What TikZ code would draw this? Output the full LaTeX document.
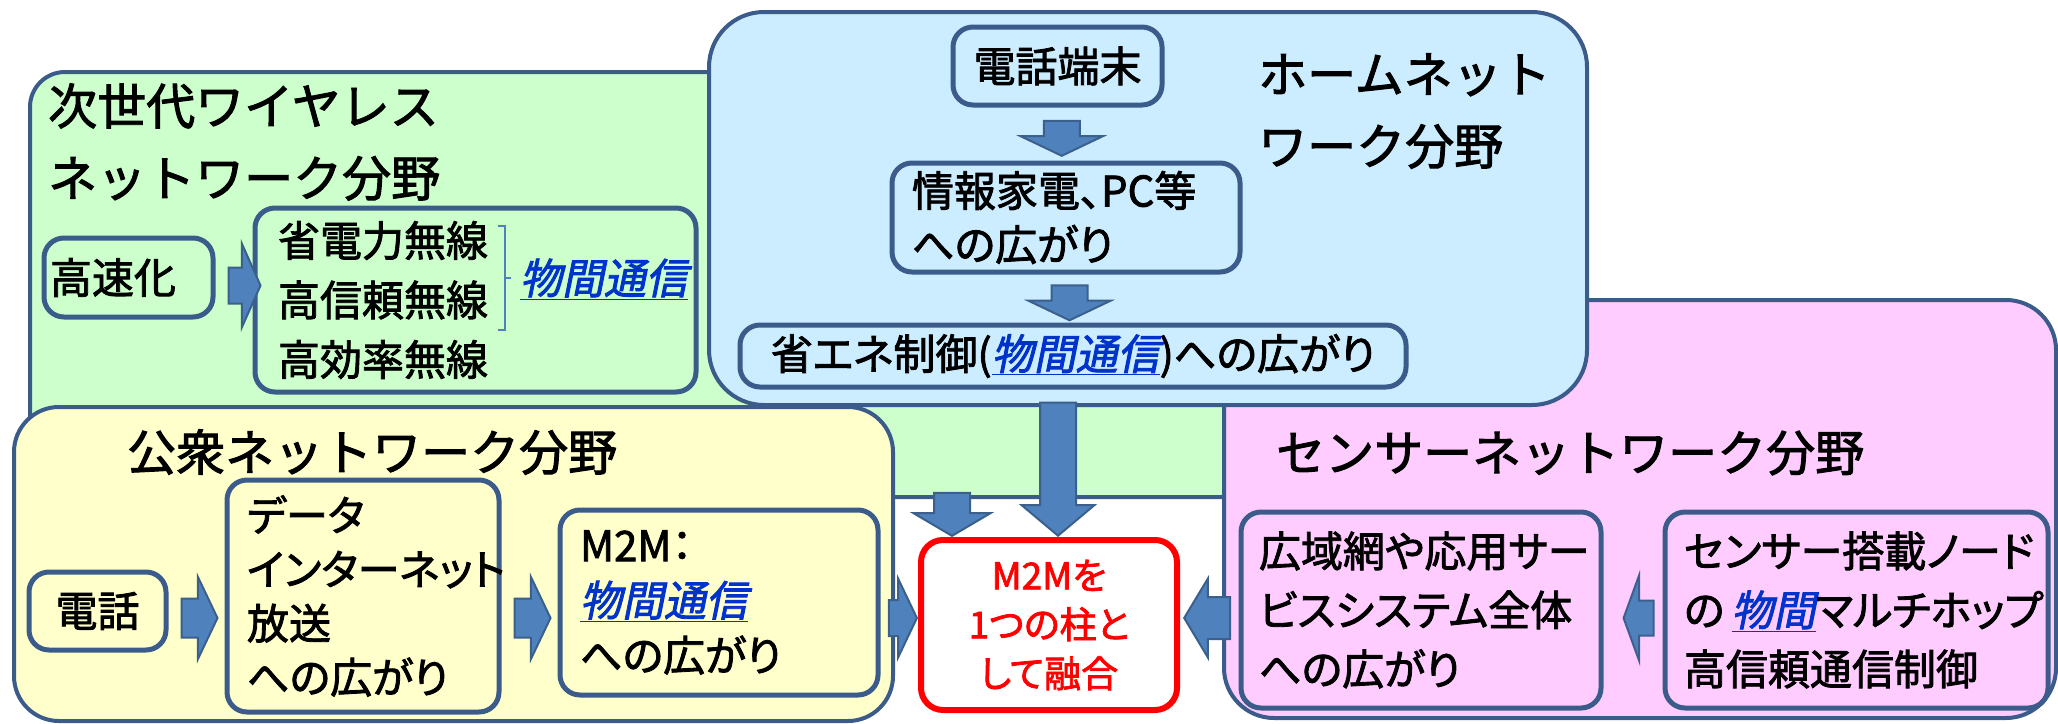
\documentclass[tikz,border=0pt]{standalone}
\usepackage{fontspec}
\setmainfont[RawFeature=+palt,FakeBold=2]{Noto Sans CJK JP}
\newfontfamily\titlefont[FakeBold=2]{Noto Sans CJK JP}
\newfontfamily\linkfont[FakeSlant=0.2,FakeBold=2,RawFeature=+palt]{Noto Sans CJK JP}
\usepackage{tikz}
\usetikzlibrary{positioning,calc,shapes.arrows}
\definecolor{edge}{RGB}{59,92,138}
\definecolor{arrowfill}{RGB}{79,129,189}
\definecolor{arrowedge}{RGB}{60,96,140}
\definecolor{wlgreen}{RGB}{204,255,204}
\definecolor{homeblue}{RGB}{204,236,255}
\definecolor{pubyellow}{RGB}{255,255,204}
\definecolor{senspink}{RGB}{255,204,255}
\definecolor{linkblue}{RGB}{0,51,204}
\newcommand{\linktext}[1]{\textcolor{linkblue}{\linkfont\underline{#1}}}
\tikzset{panel/.style={draw=edge,line width=4pt,inner sep=0pt}}
\tikzset{title/.style={font=\titlefont\fontsize{49}{72}\selectfont,align=left,inner sep=0pt}}
\tikzset{box/.style={draw=edge,line width=5pt,rounded corners=20pt,align=left,inner ysep=0pt,font=\fontsize{42}{59}\selectfont}}
\tikzset{barrow/.style={single arrow,draw=arrowedge,fill=arrowfill,line width=2pt,inner xsep=0pt,inner ysep=17pt,single arrow head extend=23pt,single arrow tip angle=129}}

\begin{document}
\begin{tikzpicture}[x=1pt,y=-1pt]
    \useasboundingbox (0,0) rectangle (2058,723);
    % panels
    \node[panel,fill=wlgreen,rounded corners=35pt,minimum width=1270pt,minimum height=425pt] (wireless) at (665,284.5) {};
    \node[panel,fill=senspink,rounded corners=50pt,minimum width=832pt,minimum height=418pt] (sensor) at (1640,509) {};
    \node[panel,fill=homeblue,rounded corners=55pt,minimum width=878pt,minimum height=393pt] (home) at (1148,208.5) {};
    \node[panel,fill=pubyellow,rounded corners=45pt,minimum width=879pt,minimum height=314pt] (public) at (453.5,564) {};
    \node[title,anchor=west] (wltitle) at (48,142) {次世代ワイヤレス\\ネットワーク分野};
    \node[title,anchor=west] (hometitle) at (1258,111) {ホームネット\\ワーク分野};
    \node[title,anchor=west] (pubtitle) at (127,452) {公衆ネットワーク分野};
    \node[title,anchor=west] (senstitle) at (1276,453) {センサーネットワーク分野};

    % wireless
    \node[box,fill=wlgreen,minimum height=79pt,text width=157pt,inner xsep=6pt] (speed) at (128.5,277.5) {高速化};
    \node[box,fill=wlgreen,minimum height=184pt,text width=395pt,inner xsep=23pt,font=\fontsize{42}{59.5}\selectfont] (wl) at (475.5,300) {省電力無線\\高信頼無線\\高効率無線};
    \node[inner sep=0pt,font=\fontsize{42}{59}\selectfont] (wllink) at (604,279) {\linktext{物間通信}};
    \draw[arrowfill,line width=1.5pt] (498,226) -- (505,226) -- (505,330) -- (498,330) (505,278) -- (511,278);
    \node[barrow,minimum height=32pt,single arrow head extend=24pt,single arrow tip angle=132,right=12pt of speed,yshift=-8pt] (speedarrow) {};

    % home
    \node[box,fill=homeblue,minimum width=209pt,minimum height=78pt,align=center] (tel) at (1057.5,66) {電話端末};
    \node[box,fill=homeblue,minimum height=109pt,text width=308pt,inner xsep=20pt,font=\fontsize{42}{54}\selectfont] (info) at (1066,217.5) {情報家電、PC等\\への広がり};
    \node[box,fill=homeblue,minimum width=666pt,minimum height=62pt,align=center] (sav) at (1073,356) {省エネ制御(\linktext{物間通信})への広がり};
    \node[barrow,rotate=-90,minimum height=35pt] (telarrow) at ($(tel.south)!0.5!(info.north)$) {};
    \node[barrow,rotate=-90,minimum height=35pt] (infoarrow) at ($(info.south)!0.5!(sav.north)$) {};

    % public
    \node[box,fill=pubyellow,minimum width=137pt,minimum height=78pt,align=center] (phone) at (97.5,611) {電話};
    \node[box,fill=pubyellow,minimum height=232pt,text width=232pt,inner xsep=20pt,font=\fontsize{42}{54}\selectfont] (data) at (363,596) {データ\\インターネット\\放送\\への広がり};
    \node[box,fill=pubyellow,minimum height=185pt,text width=278pt,inner xsep=20pt,font=\fontsize{42}{55}\selectfont] (m2mext) at (719,602.5) {M2M：\\\linktext{物間通信}\\への広がり};
    \node[barrow,minimum height=36pt,inner ysep=18.5pt,single arrow head extend=21.5pt,right=12pt of phone,yshift=-7pt] (phonearrow) {};
    \node[barrow,minimum height=36pt,inner ysep=18.5pt,single arrow head extend=21.5pt,anchor=west,xshift=12pt] (dataarrow) at (data.east |- phonearrow) {};

    % sensor
    \node[box,fill=senspink,minimum height=196pt,text width=324pt,inner xsep=18pt] (wide) at (1421,610) {広域網や応用サー\\ビスシステム全体\\への広がり};
    \node[box,fill=senspink,minimum height=196pt,text width=345pt,inner xsep=19pt] (sensnode) at (1856.5,610) {センサー搭載ノード\\の\,\linktext{物間}マルチホップ\\高信頼通信制御};
    \node[barrow,rotate=180,minimum height=30pt,inner ysep=16.5pt,single arrow head extend=25pt,single arrow tip angle=140,anchor=east] (nodearrow) at ($(wide.east |- phonearrow)+(19,0)$) {};

    % M2M
    \node[draw=red,line width=6pt,fill=white,rounded corners=22pt,minimum width=256pt,minimum height=170pt,align=center,text=red,font=\fontsize{37}{49}\selectfont] (m2m) at (1049,625) {M2Mを\\1つの柱と\\して融合};
    \node[barrow,minimum height=28pt,single arrow head extend=21.5pt,anchor=east] (pubarrow) at (m2m.west |- phonearrow) {};
    \node[barrow,rotate=180,minimum height=46pt,inner ysep=20pt,single arrow head extend=18.5pt,single arrow tip angle=118,anchor=east] (sensarrow) at ($(m2m.east |- phonearrow)+(3,0)$) {};
    \node[barrow,rotate=-90,minimum height=133pt,single arrow head extend=18.5pt,single arrow tip angle=100,anchor=east] (homearrow) at ($(m2m.north)+(9,0)$) {};
    \node[barrow,rotate=-90,minimum height=43pt,single arrow head extend=20.5pt,single arrow tip angle=119,anchor=east] (wlarrow) at ($(m2m.north)+(-97,0)$) {};
\end{tikzpicture}
\end{document}
